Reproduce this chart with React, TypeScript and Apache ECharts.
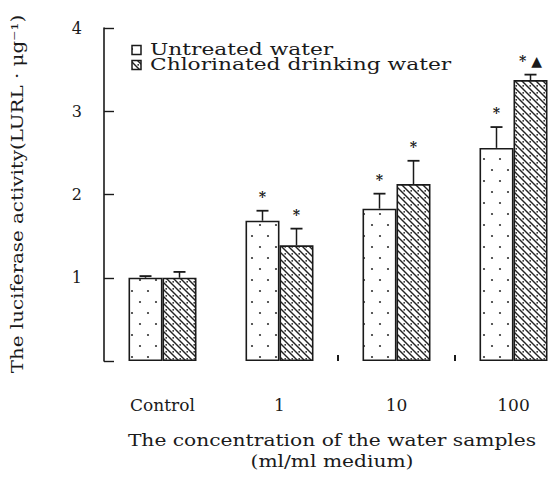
import React, { useEffect, useRef } from "react";
import * as echarts from "echarts";

const categories = ["Control", "1", "10", "100"];
const untreated = [1.0, 1.685, 1.83, 2.56];
const untreatedErr = [0.02, 0.12, 0.18, 0.25];
const chlorinated = [1.0, 1.39, 2.125, 3.375];
const chlorinatedErr = [0.07, 0.2, 0.28, 0.065];
const sigUntreated = ["", "*", "*", "*"];
const sigChlorinated = ["", "*", "*", "* ▲"];
const yTicks = [0, 1, 2, 3, 4];
const seriesNames = ["Untreated water", "Chlorinated drinking water"];
const yTitle = "The luciferase activity(LURL · μg⁻¹)";
const xTitle = ["The concentration of the water samples", "(ml/ml medium)"];

const FONT = "DejaVu Serif";
const INK = "#1a1a1a";

function makePattern(kind: "dots" | "hatch"): HTMLCanvasElement {
  const c = document.createElement("canvas");
  if (kind === "dots") {
    c.width = 16;
    c.height = 22;
    const g = c.getContext("2d")!;
    g.fillStyle = "#ffffff";
    g.fillRect(0, 0, c.width, c.height);
    g.fillStyle = "#333";
    g.beginPath();
    g.arc(4, 5, 1.1, 0, Math.PI * 2);
    g.fill();
    g.beginPath();
    g.arc(12, 16, 1.1, 0, Math.PI * 2);
    g.fill();
  } else {
    c.width = 7;
    c.height = 7;
    const g = c.getContext("2d")!;
    g.fillStyle = "#ffffff";
    g.fillRect(0, 0, 7, 7);
    g.strokeStyle = "#222";
    g.lineWidth = 1.4;
    g.beginPath();
    g.moveTo(-1, -1);
    g.lineTo(8, 8);
    g.moveTo(-1, 6);
    g.lineTo(1, 8);
    g.moveTo(6, -1);
    g.lineTo(8, 1);
    g.stroke();
    g.fillStyle = "#222";
    g.beginPath();
    g.arc(5.2, 1.8, 0.9, 0, Math.PI * 2);
    g.fill();
  }
  return c;
}

function errorSeries(values: number[], errs: number[], sig: string[], offset: number) {
  return {
    type: "custom",
    z: 5,
    silent: true,
    data: categories.map((_, i) => [i, values[i], errs[i]]),
    renderItem: (params: any, api: any) => {
      const i = api.value(0);
      const v = api.value(1);
      const e = api.value(2);
      const top = api.coord([i, v]);
      const cap = api.coord([i, v + e]);
      const x = top[0] + offset;
      const children: any[] = [
        {
          type: "line",
          shape: { x1: x, y1: top[1], x2: x, y2: cap[1] },
          style: { stroke: INK, lineWidth: 1.5 },
        },
        {
          type: "line",
          shape: { x1: x - 6, y1: cap[1], x2: x + 6, y2: cap[1] },
          style: { stroke: INK, lineWidth: 1.8 },
        },
      ];
      const s = sig[params.dataIndex];
      if (s) {
        children.push({
          type: "text",
          x: x,
          y: cap[1] - 7,
          style: {
            text: s,
            fill: INK,
            font: `bold 14px "${FONT}"`,
            align: "center",
            verticalAlign: "bottom",
          },
        });
      }
      return { type: "group", children };
    },
  };
}

export default function App() {
  const ref = useRef<HTMLDivElement>(null);
  useEffect(() => {
    document.body.style.margin = "0";
    const chart = echarts.init(ref.current!, null, { renderer: "svg" });
    const dots = makePattern("dots");
    const hatch = makePattern("hatch");
    const fills = [
      { image: dots, repeat: "repeat" },
      { image: hatch, repeat: "repeat" },
    ];
    const legendGraphics: any[] = [];
    seriesNames.forEach((n, k) => {
      const cy = 50 + k * 15;
      legendGraphics.push({
        type: "rect",
        shape: { x: 132, y: cy - 4.5, width: 9, height: 9 },
        style: { fill: fills[k] as any, stroke: INK, lineWidth: 1.5 },
      });
      legendGraphics.push({
        type: "text",
        x: 150,
        y: cy,
        scaleX: 1.36,
        style: {
          text: n,
          font: `16px "${FONT}"`,
          fill: INK,
          align: "left",
          verticalAlign: "middle",
        },
      });
    });
    chart.setOption({
      animation: false,
      textStyle: { fontFamily: FONT, color: INK },
      grid: { left: 104, top: 28, width: 468, height: 333, outerBoundsMode: "none", containLabel: false },
      xAxis: {
        type: "category",
        data: categories,
        axisLine: { show: false },
        axisTick: {
          show: true,
          inside: true,
          length: 6,
          interval: (index: number) => index >= 2,
          lineStyle: { color: INK, width: 2 },
        },
        axisLabel: { margin: 35, fontSize: 17, color: INK, fontFamily: FONT },
      },
      yAxis: {
        type: "value",
        min: yTicks[0],
        max: yTicks[yTicks.length - 1],
        interval: 1,
        splitLine: { show: false },
        axisLine: { show: true, lineStyle: { color: INK, width: 1.6 } },
        axisTick: { show: true, inside: true, length: 10, lineStyle: { color: INK, width: 1.4 } },
        axisLabel: {
          margin: 22,
          fontSize: 16,
          color: INK,
          fontFamily: FONT,
          formatter: (v: number) => (v === 0 ? "" : String(v)),
        },
      },
      graphic: [
        ...legendGraphics,
        {
          type: "text",
          x: 17,
          y: 194,
          rotation: Math.PI / 2,
          scaleX: 1.24,
          style: {
            text: yTitle,
            font: `16px "${FONT}"`,
            fill: INK,
            align: "center",
            verticalAlign: "middle",
          },
        },
        {
          type: "text",
          x: 332,
          y: 440,
          scaleX: 1.19,
          style: {
            text: xTitle[0],
            font: `17px "${FONT}"`,
            fill: INK,
            align: "center",
            verticalAlign: "middle",
          },
        },
        {
          type: "text",
          x: 332,
          y: 461,
          scaleX: 1.19,
          style: {
            text: xTitle[1],
            font: `17px "${FONT}"`,
            fill: INK,
            align: "center",
            verticalAlign: "middle",
          },
        },
      ],
      series: [
        {
          name: seriesNames[0],
          type: "bar",
          barWidth: 34,
          barGap: "0%",
          data: untreated,
          itemStyle: { color: fills[0], borderColor: INK, borderWidth: 1.6 },
        },
        {
          name: seriesNames[1],
          type: "bar",
          barWidth: 34,
          barGap: "0%",
          data: chlorinated,
          itemStyle: { color: fills[1], borderColor: INK, borderWidth: 1.6 },
        },
        errorSeries(untreated, untreatedErr, sigUntreated, -17),
        errorSeries(chlorinated, chlorinatedErr, sigChlorinated, 17),
      ],
    });
    return () => chart.dispose();
  }, []);
  return <div ref={ref} style={{ width: 548, height: 478 }} />;
}
